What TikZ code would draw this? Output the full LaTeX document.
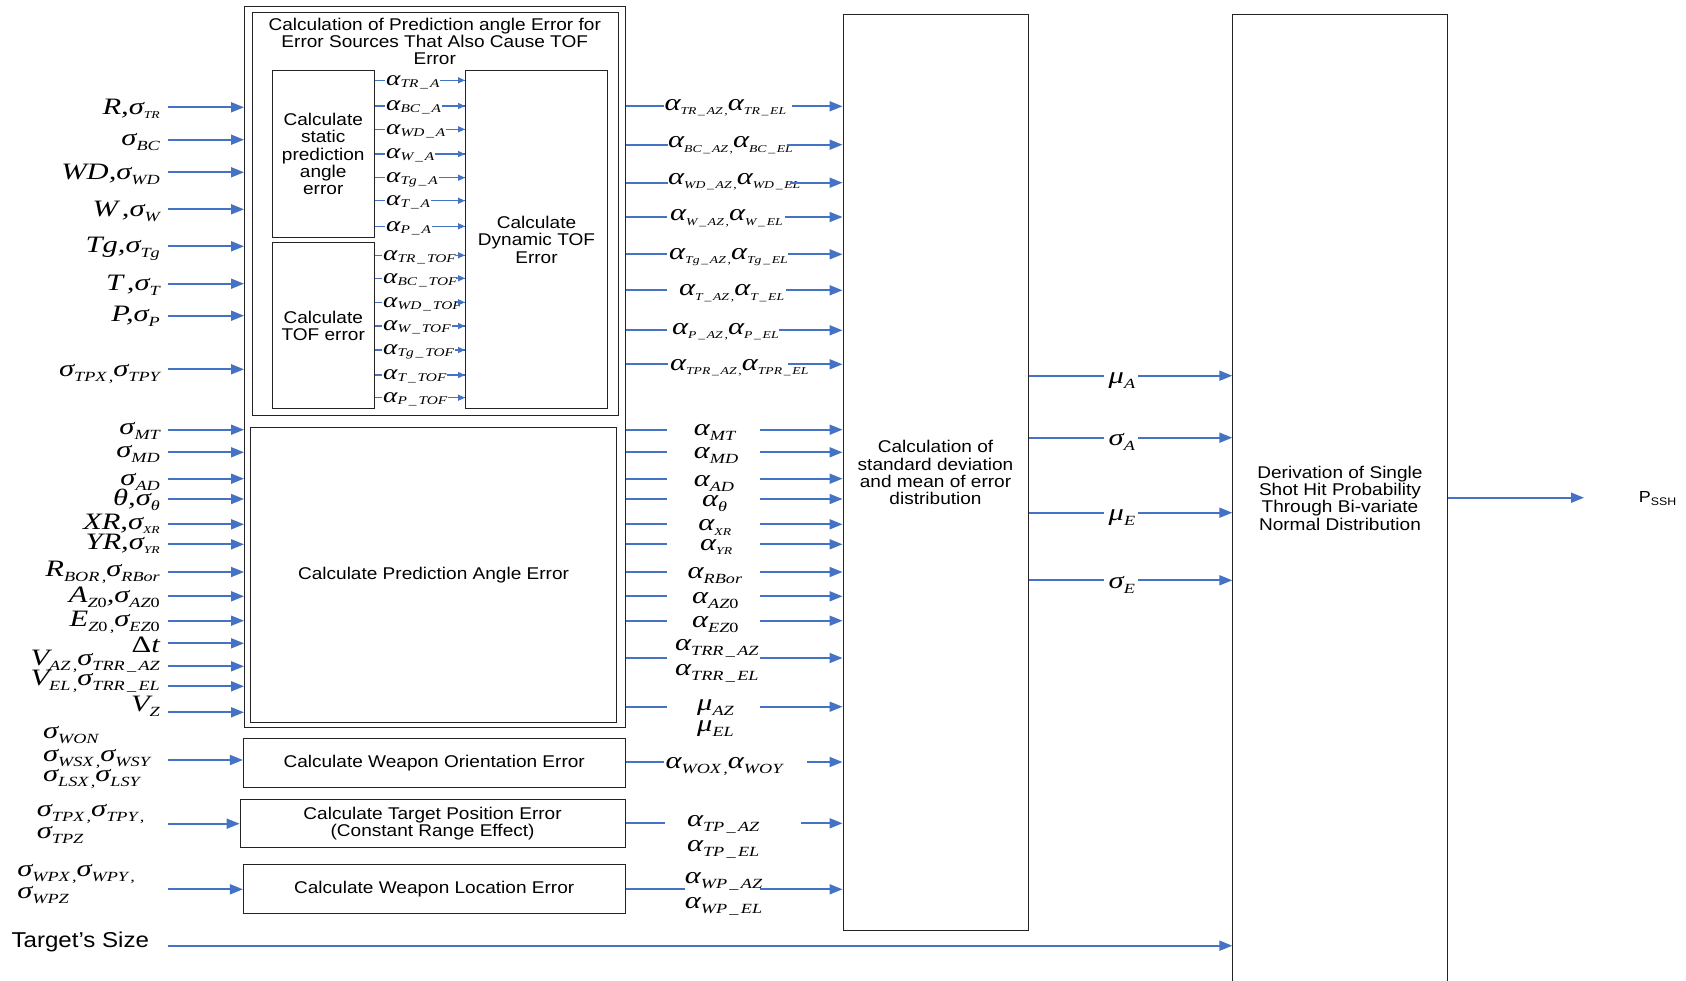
\documentclass[tikz,border=0pt]{standalone}
\usepackage{fontspec}
\setmainfont{Liberation Sans}[FakeStretch=1.12]
\newfontfamily\eqfont{Liberation Serif}[FakeStretch=1.3]
\usetikzlibrary{arrows.meta,calc}

\definecolor{flowblue}{RGB}{68,114,196}
\definecolor{boxline}{RGB}{35,35,35}

% equation-style labels: large italic symbol, smaller lowered index
\newcommand\vsym[1]{{\eqfont\itshape\fontsize{23.5}{23.5}\selectfont #1}}
\newcommand\vsb[1]{\raisebox{-5pt}{\eqfont\itshape\fontsize{14}{14}\selectfont #1}}
\newcommand\vtn[1]{\raisebox{-4.5pt}{\eqfont\itshape\fontsize{10.5}{10.5}\selectfont #1}}
% smaller variant for the signals between the two inner blocks
\newcommand\isym[1]{{\eqfont\itshape\fontsize{21}{21}\selectfont #1}}
\newcommand\isb[1]{\raisebox{-2pt}{\eqfont\itshape\fontsize{11.8}{11.8}\selectfont #1}}
% label box of fixed width, text offset from its left edge
\newcommand\gapbox[3]{\makebox[#1pt][l]{\hspace*{#2pt}#3}}
\newcommand\usc{\,\_\,}

\begin{document}
\begin{tikzpicture}[x=1pt,y=-1pt,
  box/.style={draw=boxline, line width=1pt, anchor=north west, inner sep=0pt, align=center,
              font=\fontsize{17}{17.3}\selectfont},
  wire/.style={draw=flowblue, line width=1.8pt},
  arr/.style={wire, -{Triangle[length=13pt,width=10pt]}},
  swire/.style={draw=flowblue, line width=1.3pt},
  sarr/.style={swire, -{Triangle[length=7pt,width=6pt]}},
  lab/.style={inner sep=0pt},
]
\path[use as bounding box] (0,0) rectangle (1686,980);

% ---------------- blocks ----------------
\node[box, minimum width=381.3pt, minimum height=721pt] (outer) at (244,5.7) {};
\node[box, minimum width=365.5pt, minimum height=403pt] (grp) at (252,12.3) {};
\node[lab, anchor=north, align=center, font=\fontsize{17}{17}\selectfont] (grptitle) at (434.75,17.5)
  {Calculation of Prediction angle Error for\\Error Sources That Also Cause TOF\\Error};
\node[box, minimum width=101.5pt, minimum height=166.7pt] (stat) at (272,70.3) {Calculate\\static\\prediction\\angle\\error};
\node[box, minimum width=101.5pt, minimum height=166.3pt] (toferr) at (272,242) {Calculate\\TOF error};
\node[box, minimum width=142pt, minimum height=338pt] (dyn) at (465,70.3) {Calculate\\Dynamic TOF\\Error};
\node[box, minimum width=366.5pt, minimum height=295pt] (pae) at (249.8,427.3) {Calculate Prediction Angle Error};
\node[box, minimum width=381.6pt, minimum height=49pt] (woe) at (242.9,737.7) {Calculate Weapon Orientation Error};
\node[box, minimum width=384.9pt, minimum height=48.6pt] (tpe) at (239.6,798.7) {Calculate Target Position Error\\(Constant Range Effect)};
\node[box, minimum width=381.6pt, minimum height=49pt] (wle) at (242.9,864.3) {Calculate Weapon Location Error};
\node[box, minimum width=185pt, minimum height=915.7pt] (stdb) at (842.5,14.3) {Calculation of\\standard deviation\\and mean of error\\distribution};
\node[box, minimum width=214.3pt, minimum height=967pt] (sshp) at (1232.3,14) {Derivation of Single\\Shot Hit Probability\\Through Bi-variate\\Normal Distribution};

% ---------------- inputs of the TOF group ----------------
\foreach \y/\b/\t [count=\k] in {
  107.3/114/{\vsym{R,σ}\vtn{TR}},
  139.7/145.7/{\vsym{σ}\vsb{BC}},
  172.3/179/{\vsym{WD,σ}\vsb{WD}},
  209.3/216/{\vsym{W\,,σ}\vsb{W}},
  246.3/252.3/{\vsym{Tg,σ}\vsb{Tg}},
  283.7/290/{\vsym{T\,,σ}\vsb{T}},
  315.7/321.7/{\vsym{P,σ}\vsb{P}},
  369.3/376.7/{\vsym{σ}\vsb{TPX\,,}\vsym{σ}\vsb{TPY}}}{
  \node[lab, anchor=base east] (inl\k) at (160,\b) {\t};
  \coordinate (ina\k) at (168,\y);
  \draw[arr] (ina\k) -- (ina\k -| outer.west);
}

% ---------------- inputs of the prediction angle block ----------------
\foreach \y/\b/\t [count=\k] in {
  429.7/434.5/{\vsym{σ}\vsb{MT}},
  452.3/457/{\vsym{σ}\vsb{MD}},
  478.7/485.5/{\vsym{σ}\vsb{AD}},
  499/505.5/{\vsym{θ,σ}\vsb{θ}},
  524.3/529/{\vsym{XR,σ}\vtn{XR}},
  544.3/549/{\vsym{YR,σ}\vtn{YR}},
  572/576.7/{\vsym{R}\vsb{BOR\,,}\vsym{σ}\vsb{RBor}},
  596.3/602.3/{\vsym{A}\vsb{Z{\upshape 0}}\vsym{,σ}\vsb{AZ{\upshape 0}}},
  620.7/626.7/{\vsym{E}\vsb{Z{\upshape 0}\,,}\vsym{σ}\vsb{EZ{\upshape 0}}},
  643.3/652.7/{\vsym{{\upshape Δ}t}},
  666.3/665/{\vsym{V}\vsb{AZ\,,}\vsym{σ}\vsb{TRR\usc AZ}},
  686.3/685/{\vsym{V}\vsb{EL\,,}\vsym{σ}\vsb{TRR\usc EL}},
  712.3/711.7/{\vsym{V}\vsb{Z}}}{
  \node[lab, anchor=base east] (pl\k) at (160,\b) {\t};
  \coordinate (pa\k) at (168,\y);
  \draw[arr] (pa\k) -- (pa\k -| outer.west);
}

% ---------------- inputs of the three lower blocks ----------------
\node[lab, anchor=base west] (won) at (42.9,738.3) {\vsym{σ}\vsb{WON}};
\node[lab, anchor=base west] (wsx) at (42.9,761.7) {\vsym{σ}\vsb{WSX\,,}\vsym{σ}\vsb{WSY}};
\node[lab, anchor=base west] (lsx) at (42.9,781.7) {\vsym{σ}\vsb{LSX\,,}\vsym{σ}\vsb{LSY}};
\node[lab, anchor=base west] (tpx) at (36.7,816.7) {\vsym{σ}\vsb{TPX\,,}\vsym{σ}\vsb{TPY\,,}};
\node[lab, anchor=base west] (tpz) at (36.7,838.3) {\vsym{σ}\vsb{TPZ}};
\node[lab, anchor=base west] (wpx) at (17.1,876.7) {\vsym{σ}\vsb{WPX\,,}\vsym{σ}\vsb{WPY\,,}};
\node[lab, anchor=base west] (wpz) at (17.1,898.3) {\vsym{σ}\vsb{WPZ}};
\coordinate (woa) at (168,760);
\coordinate (tpa) at (168,823.7);
\coordinate (wla) at (168,889.3);
\draw[arr] (woa) -- (woa -| woe.west);
\draw[arr] (tpa) -- (tpa -| tpe.west);
\draw[arr] (wla) -- (wla -| wle.west);

\node[lab, anchor=base west, font=\fontsize{21.5}{21.5}\selectfont] (tsize) at (11.4,947.7) {Target’s Size};
\coordinate (tsa) at (168,945.7);
\draw[arr] (tsa) -- (tsa -| sshp.west);

% ---------------- static / TOF error -> dynamic TOF ----------------
\foreach \y/\s [count=\k] in {80.3/TR,106/BC,129.3/WD,154/W,177.7/Tg,200.7/T,226.3/P}{
  \coordinate (sa\k) at (385,\y);
  \draw[swire] (sa\k -| stat.east) -- (sa\k -| dyn.west);
  \node[lab, fill=white, inner xsep=1pt, anchor=base west] (sl\k) at ($(sa\k)+(0,4.8)$) {\isym{α}\isb{\s\usc A}};
  \draw[sarr] ($(sa\k -| dyn.west)+(-9,0)$) -- (sa\k -| dyn.west);
}
\foreach \y/\s [count=\k] in {255.3/TR,278.3/BC,302.3/WD,326/W,350/Tg,375/T,397.7/P}{
  \coordinate (ta\k) at (382,\y);
  \draw[swire] (ta\k -| toferr.east) -- (ta\k -| dyn.west);
  \node[lab, fill=white, inner xsep=1pt, anchor=base west] (tl\k) at ($(ta\k)+(0,4.8)$) {\isym{α}\isb{\s\usc TOF}};
  \draw[sarr] ($(ta\k -| dyn.west)+(-9,0)$) -- (ta\k -| dyn.west);
}

% ---------------- TOF group outputs ----------------
\foreach \y/\b/\g/\w/\p/\t [count=\k] in {
  106.3/110/664.3/127.7/0/{\vsym{α}\vtn{TR\usc AZ\,,}\vsym{α}\vtn{TR\usc EL}},
  144.7/147.7/668/118.4/0/{\vsym{α}\vtn{BC\usc AZ\,,}\vsym{α}\vtn{BC\usc EL}},
  182.7/184.3/667.9/121.4/0/{\vsym{α}\vtn{WD\usc AZ\,,}\vsym{α}\vtn{WD\usc EL}},
  217/220.7/667/117.6/3/{\vsym{α}\vtn{W\usc AZ\,,}\vsym{α}\vtn{W\usc EL}},
  254.3/259/667/120.5/2/{\vsym{α}\vtn{Tg\usc AZ\,,}\vsym{α}\vtn{Tg\usc EL}},
  290.3/295.7/667/118.7/12/{\vsym{α}\vtn{T\usc AZ\,,}\vsym{α}\vtn{T\usc EL}},
  330.3/334.3/667/112/5/{\vsym{α}\vtn{P\usc AZ\,,}\vsym{α}\vtn{P\usc EL}},
  364.3/370/667.9/119.6/2/{\vsym{α}\vtn{TPR\usc AZ\,,}\vsym{α}\vtn{TPR\usc EL}}}{
  \coordinate (oa\k) at (\g,\y);
  \node[lab, anchor=base west] (ol\k) at (\g,\b) {\gapbox{\w}{\p}{\t}};
  \draw[wire] (oa\k -| outer.east) -- (oa\k -| ol\k.west);
  \draw[arr] (oa\k -| ol\k.east) -- (oa\k -| stdb.west);
}

% ---------------- prediction angle outputs ----------------
\foreach \y/\b/\p/\t [count=\k] in {
  429.7/435/26.6/{\vsym{α}\vsb{MT}},
  452.3/458.3/26.6/{\vsym{α}\vsb{MD}},
  478.7/486.7/26.6/{\vsym{α}\vsb{AD}},
  499/506.7/34.8/{\vsym{α}\vsb{θ}},
  524.3/530.7/31.2/{\vsym{α}\vtn{XR}},
  544.3/550/33/{\vsym{α}\vtn{YR}},
  572/578.3/20.5/{\vsym{α}\vsb{RBor}},
  596.3/603.3/25/{\vsym{α}\vsb{AZ{\upshape 0}}},
  620.7/627.3/25/{\vsym{α}\vsb{EZ{\upshape 0}}},
  658/650.7/8/{\vsym{α}\vsb{TRR\usc AZ}},
  706.7/710/30/{\vsym{μ}\vsb{AZ}}}{
  \coordinate (qa\k) at (667,\y);
  \node[lab, anchor=base west] (ql\k) at (667,\b) {\gapbox{92.5}{\p}{\t}};
  \draw[wire] (qa\k -| outer.east) -- (qa\k -| ql\k.west);
  \draw[arr] (qa\k -| ql\k.east) -- (qa\k -| stdb.west);
}
\node[lab, anchor=base west] (trrel) at (675,675.7) {\vsym{α}\vsb{TRR\usc EL}};
\node[lab, anchor=base west] (muel) at (697,731.7) {\vsym{μ}\vsb{EL}};

% ---------------- outputs of the three lower blocks ----------------
\coordinate (wob) at (663.6,762);
\node[lab, anchor=base west] (wol) at (663.6,768.3) {\gapbox{143.4}{1.8}{\vsym{α}\vsb{WOX\,,}\vsym{α}\vsb{WOY}}};
\draw[wire] (wob -| woe.east) -- (wob -| wol.west);
\draw[arr] (wob -| wol.east) -- (wob -| stdb.west);

\coordinate (tpb) at (665,823.3);
\node[lab, anchor=base west] (tpl) at (665,826.7) {\gapbox{135.7}{21.8}{\vsym{α}\vsb{TP\usc AZ}}};
\node[lab, anchor=base west] (tpel) at (686.8,851.7) {\vsym{α}\vsb{TP\usc EL}};
\draw[wire] (tpb -| tpe.east) -- (tpb -| tpl.west);
\draw[arr] (tpb -| tpl.east) -- (tpb -| stdb.west);

\coordinate (wlb) at (684.6,889.3);
\node[lab, anchor=base west] (wll) at (684.6,883.3) {\gapbox{75}{0}{\vsym{α}\vsb{WP\usc AZ}}};
\node[lab, anchor=base west] (wpel) at (684.6,908.3) {\vsym{α}\vsb{WP\usc EL}};
\draw[wire] (wlb -| wle.east) -- (wlb -| wll.west);
\draw[arr] (wlb -| wll.east) -- (wlb -| stdb.west);

% ---------------- distribution parameters ----------------
\foreach \y/\b/\t [count=\k] in {
  375.7/383/{\vsym{μ}\vsb{A}},
  437.7/445/{\vsym{σ}\vsb{A}},
  512.7/520.7/{\vsym{μ}\vsb{E}},
  580.3/588.3/{\vsym{σ}\vsb{E}}}{
  \coordinate (da\k) at (1104,\y);
  \node[lab, anchor=base west] (dl\k) at (1104,\b) {\gapbox{34}{4.5}{\t}};
  \draw[wire] (da\k -| stdb.east) -- (da\k -| dl\k.west);
  \draw[arr] (da\k -| dl\k.east) -- (da\k -| sshp.west);
}

% ---------------- result ----------------
\coordinate (pend) at (1584,497.7);
\draw[arr] (pend -| sshp.east) -- (pend);
\node[lab, anchor=base west] (pssh) at (1638.7,502.7)
  {\fontsize{16}{16}\selectfont P\raisebox{-3pt}{\fontsize{11}{11}\selectfont SSH}};
\end{tikzpicture}
\end{document}
